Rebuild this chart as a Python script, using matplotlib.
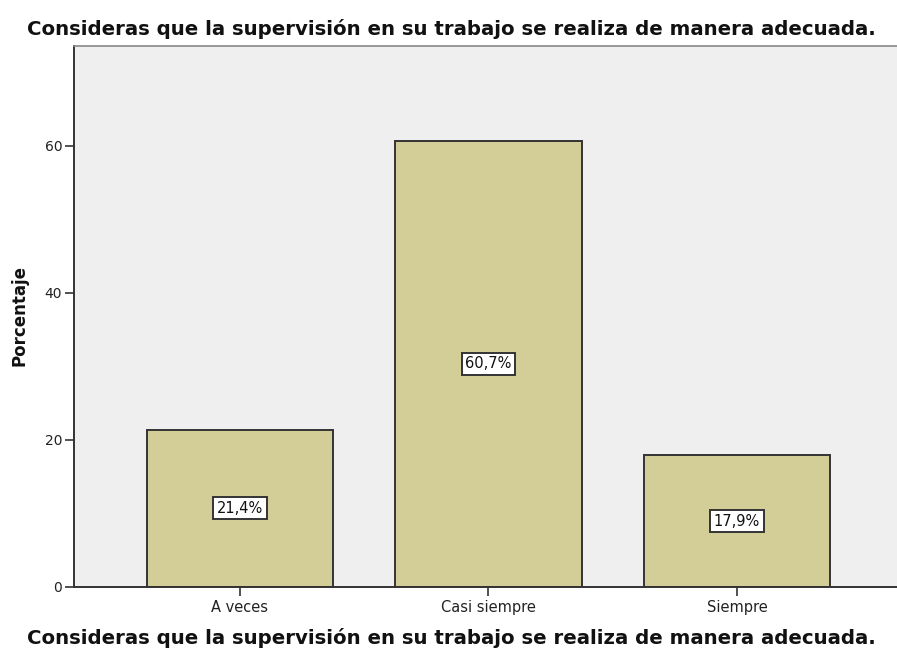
import matplotlib
matplotlib.use("Agg")
import matplotlib.pyplot as plt

categories = ["A veces", "Casi siempre", "Siempre"]
values = [21.4, 60.7, 17.9]
labels = ["21,4%", "60,7%", "17,9%"]
yticks = [0, 20, 40, 60]
title = "Consideras que la supervisión en su trabajo se realiza de manera adecuada."
ylabel = "Porcentaje"

plt.rcParams['font.family'] = ['DejaVu Sans']

W, H = 897, 648
fig = plt.figure(figsize=(W / 100, H / 100), dpi=100)
ax = fig.add_axes([74 / W, (H - 587) / H, (W - 74) / W, (587 - 46) / H])
ax.set_facecolor('#EFEFEF')

x = list(range(len(categories)))
ax.bar(x, values, width=0.75, color='#D3CE97', edgecolor='#333333', linewidth=1.4, zorder=2)
for xi, v, lab in zip(x, values, labels):
    ax.text(xi, v / 2, lab, ha='center', va='center', fontsize=10.5, color='#111111', zorder=3,
            bbox=dict(boxstyle='square,pad=0.25', facecolor='white', edgecolor='#333333', linewidth=1.4))

ax.set_xlim(-0.668, 2.644)
ax.set_ylim(0, 73.6)
ax.set_xticks(x)
ax.set_xticklabels(categories, fontsize=10.5, color='#222222')
ax.set_yticks(yticks)
ax.set_yticklabels([str(t) for t in yticks], fontsize=10, color='#222222')
ax.tick_params(axis='both', direction='out', length=6.5, width=1.2, color='#333333')
ax.tick_params(axis='x', pad=3)
ax.tick_params(axis='y', pad=2)

for s in ['left', 'bottom']:
    ax.spines[s].set_color('#333333')
    ax.spines[s].set_linewidth(1.4)
ax.spines['top'].set_color('#888888')
ax.spines['top'].set_linewidth(1.2)
ax.spines['right'].set_visible(False)

fig.text(451 / W, 1 - 29 / H, title, ha='center', va='center', fontsize=14.25, fontweight='bold', color='#111111')
fig.text(451 / W, 1 - 638 / H, title, ha='center', va='center', fontsize=14.25, fontweight='bold', color='#111111')
fig.text(20 / W, 1 - 316 / H, ylabel, ha='center', va='center', rotation=90, fontsize=12, fontweight='bold', color='#111111')

fig.savefig('out.png', dpi=100)
